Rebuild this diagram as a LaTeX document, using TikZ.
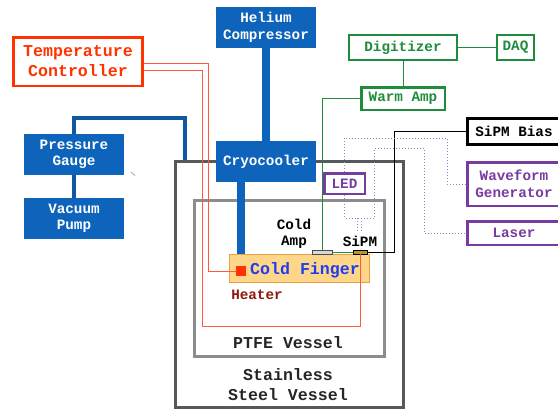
\documentclass[tikz,border=0pt]{standalone}
\usepackage{fontspec}
\setmonofont{Liberation Mono}
\usepackage{tikz}

\definecolor{boxblue}{RGB}{14,99,186}
\definecolor{pipeblue}{RGB}{16,88,160}
\definecolor{tcred}{RGB}{255,51,0}
\definecolor{wirered}{RGB}{255,90,60}
\definecolor{sgreen}{RGB}{30,140,60}
\definecolor{spurple}{RGB}{120,60,160}
\definecolor{fiber}{RGB}{170,120,200}
\definecolor{ssgray}{RGB}{85,88,92}
\definecolor{ptfegray}{RGB}{140,140,140}
\definecolor{cffill}{RGB}{253,214,138}
\definecolor{cfedge}{RGB}{232,160,70}
\definecolor{cfblue}{RGB}{30,60,240}
\definecolor{heatred}{RGB}{140,25,15}
\definecolor{sipmgold}{RGB}{185,150,45}

\newcommand{\boxfont}{\ttfamily\bfseries\fontsize{14.3}{16.5}\selectfont}
\newcommand{\bigfont}{\ttfamily\bfseries\fontsize{16.6}{20}\selectfont}

\begin{document}
\begin{tikzpicture}[x=1pt, y=-1pt,
  bluebox/.style = {fill=boxblue, text=white, font=\boxfont, align=center,
    inner sep=0pt, minimum width=100pt, minimum height=41pt},
  linebox/.style = {line width=2.5pt, font=\boxfont, align=center, inner sep=0pt},
  greenbox/.style = {linebox, draw=sgreen, text=sgreen},
  purplebox/.style = {linebox, draw=spurple, text=spurple},
  label/.style = {font=\boxfont, align=center, inner sep=0pt},
  pipe/.style = {pipeblue, line width=4.5pt},
  wire/.style = {wirered, line width=1pt},
  fiberline/.style = {fiber, dotted, line width=1pt}]
\useasboundingbox (0,0) rectangle (558,410);
%\draw [very thin, color = gray](0, 0) grid (558, 410);

% vessels
\draw [ssgray, line width=3.5pt] (175.5,161.5) rectangle (403.5,407.5);
\draw [ptfegray, line width=3pt] (194.5,200.5) rectangle (384.5,356.5);
\node [label, font=\bigfont, text=black!85] (ptfe) at (288,343) {PTFE Vessel};
\node [label, font=\bigfont, text=black!85] (steel) at (288,384.5) {Stainless\\Steel Vessel};

% cryo side
\node [bluebox] (helium) at (266,27.5) {Helium\\Compressor};
\node [bluebox] (cryo) at (266,161.5) {Cryocooler};
\node [bluebox] (gauge) at (74,154.5) {Pressure\\Gauge};
\node [bluebox] (pump) at (74,218.5) {Vacuum\\Pump};
\draw [pipe] (gauge.south) to (pump.north);
\draw [pipe] (gauge.north) |- (185,118) to (185,160);
\draw [boxblue, line width=8pt] (helium.south) to (cryo.north);
\draw [gray!70, line width=0.8pt] (131,172) to (135,175.5);

% cold finger
\node [draw=cfedge, fill=cffill, line width=1.2pt, minimum width=140pt,
  minimum height=28pt, inner sep=0pt] (finger) at (299.5,268.5) {};
\node [fill=tcred, minimum size=10pt, inner sep=0pt] (heatsq) at (241,271) {};
\node [label, font=\bigfont, text=cfblue] (fingertext) at (305,270) {Cold Finger};
\node [label, text=heatred] (heater) at (257,294.5) {Heater};
\draw [boxblue, line width=8pt] (cryo.south -| heatsq) to (finger.north -| heatsq);

% temperature control
\node [linebox, draw=tcred, text=tcred, font=\bigfont, minimum width=129pt,
  minimum height=48.5pt] (tempctrl) at (78,61.5) {Temperature\\Controller};
\node [draw=black!70, fill=black!15, line width=0.8pt, minimum width=20pt,
  minimum height=4pt, inner sep=0pt] (coldamp) at (322,252) {};
\node [draw=black, fill=sipmgold, line width=0.8pt, minimum width=14pt,
  minimum height=4pt, inner sep=0pt] (sipm) at (360,252) {};
\draw [wire] (144,63) -| (208,271) to (heatsq.west);
\draw [wire] (144,70) -| (202,326) -| (sipm.south);

% readout
\node [greenbox, minimum width=108pt, minimum height=25pt] (digitizer) at (403,47.5) {Digitizer};
\node [greenbox, minimum width=37pt, minimum height=25pt] (daq) at (515.5,47.5) {DAQ};
\node [greenbox, minimum width=83.5pt, minimum height=22.5pt] (warmamp) at (403,98.5) {Warm Amp};
\draw [sgreen, line width=1pt] (digitizer.east) to (daq.west);
\draw [sgreen, line width=1pt] (digitizer.south) to (warmamp.north);
\draw [sgreen, line width=1pt] (warmamp.west) -| (coldamp.north);
\draw [sgreen, line width=1pt] (coldamp.east) to (sipm.west);
\node [label] (coldamplabel) at (294,234) {Cold\\Amp};
\node [label] (sipmlabel) at (360,241) {SiPM};

% bias and light sources
\node [linebox, draw=black, line width=3pt, minimum width=93pt, minimum height=26pt] (sipmbias) at (514,131.5) {SiPM Bias};
\draw [black, line width=1pt] (sipmbias.west) -| (394,252) to (sipm.east);
\node [purplebox, minimum width=93pt, minimum height=43.5pt] (wavegen) at (514,184) {Waveform\\Generator};
\node [purplebox, minimum width=93pt, minimum height=23.5pt] (laser) at (514,233) {Laser};
\node [purplebox, minimum width=40.5pt, minimum height=20.5pt] (led) at (344.5,183.5) {LED};
\draw [fiberline] (wavegen.west) -| (447,138) -| (led.north);
\draw [fiberline] (led.south) |- (374,218) |- (424,148) |- (laser.west);
\draw [fiberline] (357.5,218) to (357.5,233);
\draw [fiberline] (361,218) to (361,233);
\end{tikzpicture}
\end{document}
